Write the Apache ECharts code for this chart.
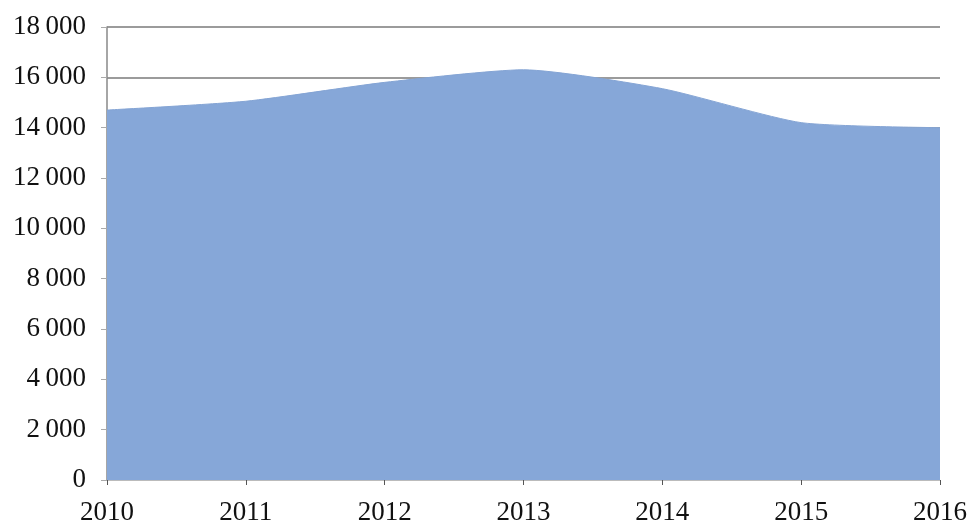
<!DOCTYPE html>
<html>
<head>
<meta charset="utf-8">
<script src="https://cdn.jsdelivr.net/npm/echarts@6/dist/echarts.min.js"></script>
<style>
html,body{margin:0;padding:0;background:#fff;}
#chart{width:971px;height:526px;}
</style>
</head>
<body>
<div id="chart"></div>
<script>
const years = ['2010','2011','2012','2013','2014','2015','2016'];
const values = [14700, 15050, 15800, 16300, 15550, 14200, 14000];
const yMin = 0, yMax = 18000, yStep = 2000;

const chart = echarts.init(document.getElementById('chart'));
const fontFamily = '"Liberation Serif","DejaVu Serif",serif';
chart.setOption({
  animation: false,
  grid: { left: 107, right: 31, top: 27, bottom: 45, containLabel: false },
  xAxis: {
    type: 'category',
    data: years,
    boundaryGap: false,
    axisLine: { show: true, lineStyle: { color: '#bbbbbb', width: 1 } },
    axisTick: { show: true, alignWithLabel: true, length: 5, lineStyle: { color: '#555' } },
    axisLabel: { color: '#111', fontFamily: fontFamily, fontSize: 27, margin: 19 },
    splitLine: { show: false }
  },
  yAxis: {
    type: 'value',
    min: yMin, max: yMax, interval: yStep,
    axisLine: { show: true, lineStyle: { color: '#888', width: 1.5 } },
    axisTick: { show: true, length: 6, inside: false, lineStyle: { color: '#aaa' } },
    axisLabel: {
      color: '#111', fontFamily: fontFamily, fontSize: 27, margin: 21,
      formatter: function (v) {
        return String(v).replace(/\B(?=(\d{3})+(?!\d))/g, '\u202f');
      }
    },
    splitLine: { show: true, lineStyle: { color: '#7a7a7a', width: 1.5 } }
  },
  series: [{
    type: 'line',
    data: values,
    smooth: 0.2,
    symbol: 'none',
    lineStyle: { width: 1, color: '#84a4d4' },
    areaStyle: { color: '#86a7d8', opacity: 1 },
    z: 3
  }]
});
</script>
</body>
</html>
